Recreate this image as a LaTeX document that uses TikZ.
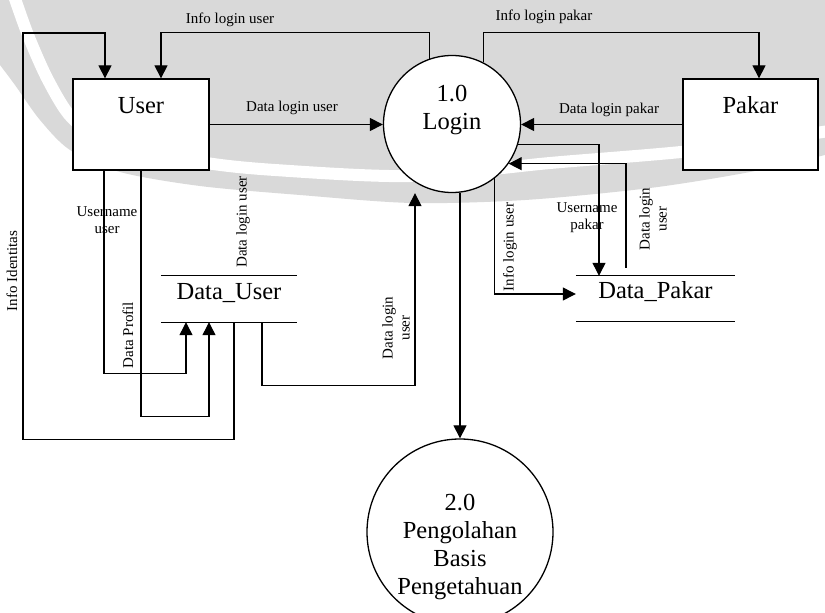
\documentclass[tikz,border=0pt]{standalone}
\usepackage{fontspec}
\setmainfont{Liberation Serif}
\usetikzlibrary{arrows.meta}

\definecolor{bandgray}{RGB}{217,217,217}

\begin{document}
\begin{tikzpicture}[
  >={Triangle[length=13pt,width=13pt]},
  x=1pt, y=-1pt,
  enode/.style={rectangle, draw=black, line width=1.3pt, fill=white, minimum width=136pt, minimum height=91pt,
                inner sep=0pt, text height=17pt, text depth=40pt, font=\fontsize{24.5}{28}\selectfont},
  pnode/.style={circle, draw=black, line width=1.3pt, fill=white, inner sep=0pt},
  snode/.style={rectangle, inner sep=0pt, minimum height=46pt, text height=8pt, text depth=8pt,
                font=\fontsize{24.5}{28}\selectfont},
  ptext/.style={align=center, inner sep=0pt, font=\fontsize{24.5}{28.3}\selectfont},
  fedge/.style={->, draw=black, line width=1.2pt},            % data flow
  flab/.style={inner sep=0pt, align=center, font=\fontsize{15}{17}\selectfont},
]
\useasboundingbox (0,0) rectangle (825,613);

% ============================== background band ==============================
\fill[white] (0,0) rectangle (825,613);
\fill[bandgray] (0,0) -- (825,0) -- plot[smooth] coordinates
   {(825,155) (750,172) (650,188) (525,200) (412,203) (300,195) (200,186) (120,172) (70,150) (40,120) (15,85) (0,65)} -- cycle;
\draw[white, line width=12pt] plot[smooth] coordinates
   {(12,-10) (28,35) (48,80) (72,118) (110,143) (200,162) (275,170) (412,176) (550,163) (700,150) (835,130)};

% ============================== entities & processes ==============================
\node[enode] (user) at (141,124.5) {User};
\node[enode, minimum width=135pt] (pakar) at (750.5,124.5) {Pakar};
\node[pnode, minimum size=137pt] (login) at (452,124) {};
\node[ptext] (logintxt) at (452,110) {1.0\\Login};
\node[pnode, minimum size=186pt] (olah) at (460,532) {};
\node[ptext] (olahtxt) at (460,547) {2.0\\Pengolahan\\Basis\\Pengetahuan};

% ============================== data stores ==============================
\node[snode, minimum width=136pt] (dUser) at (229,299) {Data\_User};
\node[snode, minimum width=159pt, minimum height=45pt] (dPakar) at (655.5,298.5) {Data\_Pakar};
\foreach \s in {dUser,dPakar}{
  \draw[line width=1.2pt] (\s.north west) -- (\s.north east);
  \draw[line width=1.2pt] (\s.south west) -- (\s.south east);
}

% ============================== flow labels ==============================
\node[flab] (lInfoUser) at (230,20) {Info login user};
\node[flab] (lInfoPakar) at (544,17) {Info login pakar};
\node[flab] (lLoginUser) at (292,108) {Data login user};
\node[flab] (lLoginPakar) at (609,110) {Data login pakar};
\node[flab, rotate=90] (lIdentitas) at (12,271) {Info Identitas};
\node[flab] (lUnameUser) at (107,220) {Username\\user};
\node[flab, rotate=90] (lProfil) at (128,335) {Data Profil};
\node[flab, rotate=90] (lLoginUserA) at (243,222) {Data login user};
\node[flab, rotate=90] (lLoginUserB) at (396,328) {Data login\\user};
\node[flab, rotate=90] (lInfoUserB) at (510,247) {Info login user};
\node[flab] (lUnamePakar) at (587,218) {Username\\pakar};
\node[flab, rotate=90] (lLoginUserC) at (653,219) {Data login\\user};

% ============================== flows ==============================
\draw[fedge] (login.109) -- ++(0,-26) -| ([xshift=20pt]user.north);
\draw[fedge] (login.63) -- ++(0,-30) -| ([xshift=8.5pt]pakar.north);
\draw[fedge] (user.east) -- (user.east -| login.west);
\draw[fedge] (pakar.west) -- (pakar.west -| login.east);
\draw[fedge] ([xshift=5pt]dUser.south) -- ++(0,117) -| (23,33) -| ([xshift=-36pt]user.north);
\draw[fedge] ([xshift=-37pt]user.south) -- ++(0,203) -| ([xshift=-43pt]dUser.south);
\draw[fedge] (user.south) -- ++(0,246) -| ([xshift=-20pt]dUser.south);
\draw[fedge] ([xshift=33pt]dUser.south) -- ++(0,63) -| ([xshift=-37pt]login.south);
\draw[fedge] (login.south -| olah.north) -- (olah.north);
\draw[fedge] (login.-52) |- ([yshift=4.5pt]dPakar.west);
\draw[fedge] (login.-17) -| ([xshift=-56.5pt]dPakar.north);
\draw[fedge] ([xshift=-29.5pt,yshift=8pt]dPakar.north) |- (login.-35);
\end{tikzpicture}
\end{document}
